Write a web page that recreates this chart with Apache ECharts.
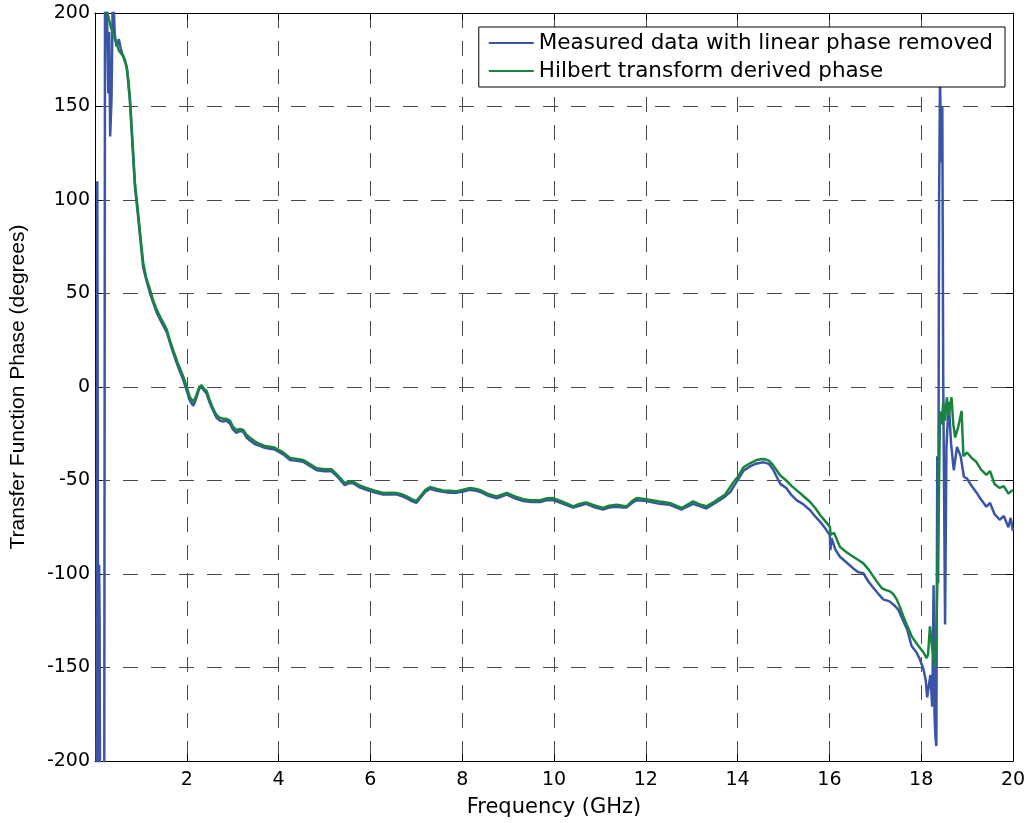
<!DOCTYPE html>
<html>
<head>
<meta charset="utf-8">
<script src="https://cdn.jsdelivr.net/npm/echarts@6/dist/echarts.min.js"></script>
<style>
  html, body { margin: 0; padding: 0; background: #fff; }
  #chart { width: 1033px; height: 823px; }
</style>
</head>
<body>
<div id="chart"></div>
<script>
// measured phase (linear phase removed)
const blueFreq = [
  0.03, 0.05, 0.06, 0.07, 0.08, 0.09, 0.1, 0.115, 0.2, 0.22, 0.26, 0.29, 0.31, 0.33, 0.36, 0.39,
  0.43, 0.47, 0.52, 0.56, 0.6, 0.65, 0.7, 0.72, 0.76, 0.82, 0.87, 0.94, 1.0, 1.05, 1.12, 1.2,
  1.27, 1.34, 1.45, 1.56, 1.63, 1.7, 1.8, 1.92, 2.0, 2.06, 2.14, 2.2, 2.27, 2.32, 2.38, 2.43,
  2.5, 2.58, 2.65, 2.72, 2.79, 2.86, 2.94, 3.0, 3.08, 3.16, 3.23, 3.3, 3.37, 3.48, 3.59, 3.7,
  3.81, 3.92, 3.96, 4.1, 4.25, 4.4, 4.53, 4.7, 4.83, 5.0, 5.15, 5.3, 5.44, 5.53, 5.62, 5.75,
  5.91, 6.1, 6.28, 6.45, 6.57, 6.7, 6.79, 6.9, 7.0, 7.1, 7.2, 7.3, 7.45, 7.58, 7.72, 7.87,
  8.0, 8.17, 8.3, 8.38, 8.55, 8.75, 8.97, 9.15, 9.33, 9.5, 9.7, 9.85, 9.98, 10.2, 10.42, 10.55,
  10.7, 10.9, 11.07, 11.2, 11.36, 11.5, 11.58, 11.7, 11.8, 12.01, 12.3, 12.52, 12.78, 13.03, 13.2, 13.32,
  13.45, 13.61, 13.73, 13.84, 13.92, 14.01, 14.13, 14.27, 14.4, 14.5, 14.57, 14.68, 14.77, 14.93, 15.06, 15.18,
  15.29, 15.42, 15.58, 15.7, 15.8, 15.92, 16.01, 16.02, 16.05, 16.13, 16.23, 16.38, 16.52, 16.63, 16.74, 16.85,
  16.96, 17.08, 17.18, 17.3, 17.4, 17.5, 17.61, 17.7, 17.79, 17.9, 17.97, 18.05, 18.1, 18.13, 18.2, 18.24,
  18.27, 18.29, 18.31, 18.33, 18.35, 18.37, 18.39, 18.41, 18.44, 18.46, 18.48, 18.5, 18.52, 18.55, 18.6, 18.65,
  18.71, 18.78, 18.86, 18.93, 19.0, 19.1, 19.22, 19.3, 19.42, 19.5, 19.6, 19.71, 19.8, 19.9, 19.95, 20.0
];
const bluePhase = [
  -260, 110, -35, -260, -260, -95, -125, -260, -260, 260, 260, 157, 190, 134, 154, 215,
  189, 182, 186, 181, 178, 175, 170, 164, 153, 128, 107, 91, 76, 64, 57, 50,
  45, 40, 34.5, 29.5, 24, 18.5, 11.5, 4, -2, -7, -10, -6.5, -1, 0, -2, -3.5,
  -8.5, -13, -16.5, -18, -18.5, -18, -19.5, -22.5, -24.5, -23.5, -24, -27, -28.5, -30.5, -31.5, -32.5,
  -33, -33.5, -33.5, -36, -39, -39.5, -40, -42.5, -44.5, -45, -45, -48.5, -52.5, -51.5, -51.5, -53.5,
  -55, -56.5, -57.5, -57.5, -57.5, -58.5, -59.5, -61, -62, -59, -56, -54.5, -55.5, -56, -56.5, -56.5,
  -56, -55, -55.5, -56, -58, -59.5, -57.5, -59.5, -61, -61.5, -61.5, -60.5, -60.5, -62.5, -64.5, -63.5,
  -62.5, -64.5, -65.5, -64.5, -64, -64.5, -64.5, -62, -60.5, -61, -62.5, -63, -65.5, -62.5, -64, -65,
  -63, -60.5, -58.5, -56.2, -53, -49.5, -44.7, -42.5, -41, -40.5, -40.3, -41.1, -44, -51.8, -54, -58,
  -60.6, -62.5, -65.9, -69.5, -72.1, -76, -79.2, -87.2, -81, -87, -90.8, -94, -97, -99, -99.6, -104,
  -107.5, -111, -113.7, -114.5, -116.4, -119, -125.2, -130, -138.5, -142, -145.6, -151, -157, -166, -154, -171,
  -106, -175, -187, -192, -37, -105, 100, 165, 120, 150, 4, -60, -127, -32, -8, -30,
  -44.5, -32, -37, -48, -49, -53, -57, -60, -64, -62, -68, -71, -69, -75, -70, -77
];

// Hilbert transform derived phase
const greenFreq = [
  0.2, 0.27, 0.35, 0.45, 0.52, 0.61, 0.68, 0.72, 0.76, 0.82, 0.87, 0.94, 1.0, 1.05, 1.12, 1.2,
  1.27, 1.34, 1.45, 1.56, 1.63, 1.7, 1.8, 1.92, 2.0, 2.06, 2.14, 2.2, 2.27, 2.32, 2.38, 2.43,
  2.5, 2.58, 2.65, 2.72, 2.79, 2.86, 2.94, 3.0, 3.08, 3.16, 3.23, 3.3, 3.37, 3.48, 3.59, 3.7,
  3.81, 3.92, 3.96, 4.1, 4.25, 4.4, 4.53, 4.7, 4.83, 5.0, 5.15, 5.3, 5.44, 5.53, 5.62, 5.75,
  5.91, 6.1, 6.28, 6.45, 6.57, 6.7, 6.79, 6.9, 7.0, 7.1, 7.2, 7.3, 7.45, 7.58, 7.72, 7.87,
  8.0, 8.17, 8.3, 8.38, 8.55, 8.75, 8.97, 9.15, 9.33, 9.5, 9.7, 9.85, 9.98, 10.2, 10.42, 10.55,
  10.7, 10.9, 11.07, 11.2, 11.36, 11.5, 11.58, 11.7, 11.8, 12.01, 12.3, 12.52, 12.78, 13.03, 13.2, 13.32,
  13.45, 13.61, 13.73, 13.84, 13.92, 14.01, 14.13, 14.27, 14.4, 14.5, 14.57, 14.68, 14.77, 14.93, 15.06, 15.18,
  15.29, 15.42, 15.58, 15.7, 15.8, 15.92, 16.01, 16.03, 16.1, 16.23, 16.38, 16.52, 16.63, 16.74, 16.85, 16.96,
  17.06, 17.14, 17.22, 17.32, 17.4, 17.47, 17.54, 17.61, 17.7, 17.79, 17.88, 17.97, 18.05, 18.12, 18.15, 18.19,
  18.24, 18.3, 18.33, 18.36, 18.38, 18.41, 18.45, 18.48, 18.52, 18.56, 18.6, 18.66, 18.7, 18.74, 18.8, 18.88,
  18.92, 19.0, 19.1, 19.2, 19.3, 19.42, 19.5, 19.6, 19.71, 19.8, 19.9, 20.0
];
const greenPhase = [
  215, 200, 192, 185, 180, 177, 172, 165, 155, 130, 109, 93, 78, 66.5, 58, 52,
  46, 41.6, 36, 31, 25, 20, 13, 5.8, 0, -5, -8, -5, 0, 1, -1, -2,
  -7, -12, -15, -16.5, -17, -17, -18, -21, -23, -22.5, -23, -25.5, -27, -29, -30.5, -31.5,
  -32, -32.5, -32.5, -35, -38, -38.5, -39, -41.5, -43.5, -44, -44, -47.5, -51.4, -50.5, -50.5, -52.5,
  -54, -55.5, -56.7, -56.5, -56.7, -57.5, -58.5, -60, -61, -58, -55, -53.5, -54.5, -55.3, -55.5, -55.8,
  -55, -54, -54.5, -55, -57, -58.5, -56.7, -58.5, -60, -60.5, -60.5, -59.5, -59.4, -61.5, -63.8, -62.5,
  -61.7, -63.5, -64.7, -63.5, -62.9, -63.5, -63.8, -61, -59.4, -60, -61.2, -62, -64.7, -61.2, -63, -63.8,
  -62, -59.4, -57.5, -53.5, -50.5, -47.9, -42.9, -40.8, -39.2, -38.6, -38.5, -39.4, -41.7, -47.3, -50, -53,
  -55.3, -58, -61.5, -65, -68.6, -72, -74.8, -79, -78, -85.5, -88.5, -90.8, -92.5, -94.3, -97.5, -101.4,
  -105, -107.5, -108.5, -109.3, -111, -113.7, -118, -122.6, -128, -133.2, -136.5, -139.4, -142, -145, -143, -128,
  -140, -150, -130, -95, -69, -13, -20, -8, -18, -5.5, -15, -5.5, -20, -27, -22, -12.8,
  -37, -35, -38, -40, -44, -47, -45, -52, -54, -53, -57, -55
];

const xTicks = { min: 0, max: 20, interval: 2 };
const yTicks = { min: -200, max: 200, interval: 50 };

const pairs = (xs, ys) => xs.map((x, i) => [x, ys[i]]);

const tickFont = { fontFamily: 'DejaVu Sans', fontSize: 19, color: '#000' };
const gridDash = { color: '#4a4a4a', width: 1, type: [15, 13] };
const boxLine = { show: true, onZero: false, lineStyle: { color: '#000', width: 1 } };
const innerTick = { show: true, inside: true, length: 7, lineStyle: { color: '#000' } };

const chart = echarts.init(document.getElementById('chart'), null, { renderer: 'canvas' });

chart.setOption({
  animation: false,
  backgroundColor: '#fff',
  grid: { left: 95, right: 20, top: 13, bottom: 56, containLabel: false },
  legend: {
    right: 28,
    top: 27,
    orient: 'vertical',
    icon: 'rect',
    itemWidth: 45,
    itemHeight: 2,
    itemGap: 6,
    padding: [5, 12, 5, 10],
    backgroundColor: '#fff',
    borderColor: '#000',
    borderWidth: 1,
    borderRadius: 0,
    textStyle: { fontFamily: 'DejaVu Sans', fontSize: 21.5, color: '#000' },
    data: ['Measured data with linear phase removed', 'Hilbert transform derived phase'],
  },
  xAxis: [
    {
      type: 'value',
      ...xTicks,
      position: 'bottom',
      name: 'Frequency (GHz)',
      nameLocation: 'middle',
      nameGap: 36,
      nameTextStyle: { fontFamily: 'DejaVu Sans', fontSize: 21, color: '#000' },
      axisLine: boxLine,
      axisTick: innerTick,
      axisLabel: {
        ...tickFont,
        margin: 10,
        formatter: v => (v === 0 ? '' : String(v)),
      },
      splitLine: { show: true, lineStyle: gridDash },
    },
    {
      type: 'value',
      ...xTicks,
      position: 'top',
      axisLine: boxLine,
      axisTick: innerTick,
      axisLabel: { show: false },
      splitLine: { show: false },
    },
  ],
  yAxis: [
    {
      type: 'value',
      ...yTicks,
      position: 'left',
      name: 'Transfer Function Phase (degrees)',
      nameLocation: 'middle',
      nameGap: 66,
      nameTextStyle: { fontFamily: 'Liberation Sans', fontSize: 21, color: '#000' },
      axisLine: boxLine,
      axisTick: innerTick,
      axisLabel: { ...tickFont, margin: 5 },
      splitLine: { show: true, lineStyle: gridDash },
    },
    {
      type: 'value',
      ...yTicks,
      position: 'right',
      axisLine: boxLine,
      axisTick: innerTick,
      axisLabel: { show: false },
      splitLine: { show: false },
    },
  ],
  series: [
    {
      name: 'Measured data with linear phase removed',
      type: 'line',
      xAxisIndex: 0,
      yAxisIndex: 0,
      data: pairs(blueFreq, bluePhase),
      showSymbol: false,
      symbol: 'none',
      clip: true,
      color: '#3a55a8',
      lineStyle: { color: '#3a55a8', width: 2.5 },
    },
    {
      name: 'Hilbert transform derived phase',
      type: 'line',
      xAxisIndex: 0,
      yAxisIndex: 0,
      data: pairs(greenFreq, greenPhase),
      showSymbol: false,
      symbol: 'none',
      clip: true,
      color: '#18853d',
      lineStyle: { color: '#18853d', width: 2.5 },
    },
  ],
})
</script>
</body>
</html>
